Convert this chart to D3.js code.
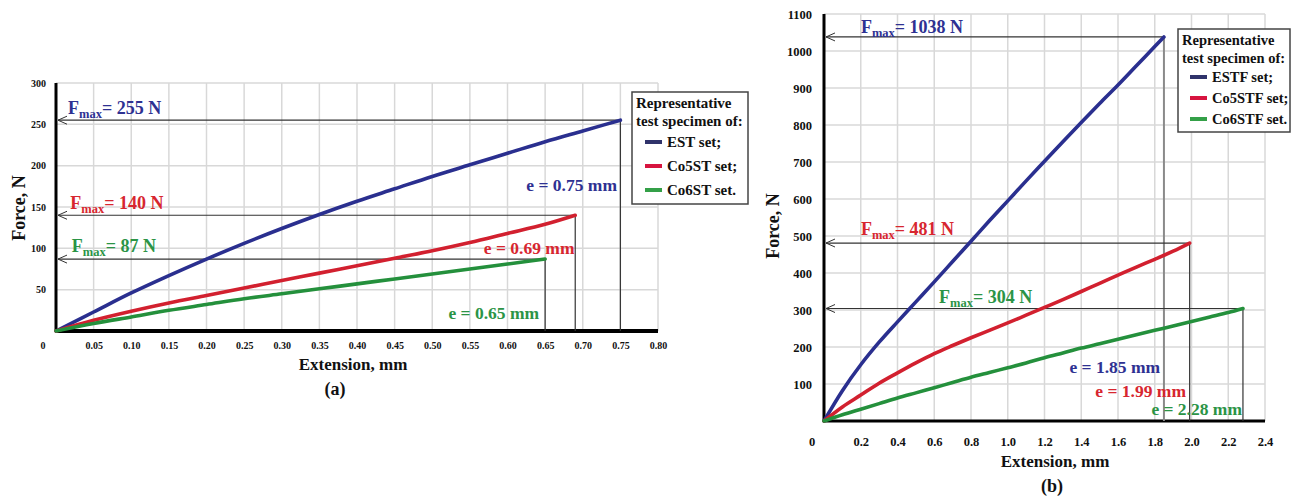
<!DOCTYPE html>
<html>
<head>
<meta charset="utf-8">
<script src="https://cdn.jsdelivr.net/npm/d3@7"></script>
<style>
  body { margin: 0; background: #fff; }
  svg { display: block; }
  svg text { font-family: "Liberation Serif", "Times New Roman", Times, "DejaVu Serif", serif !important; font-weight: bold; }
</style>
</head>
<body>
<svg id="chart" width="1291" height="497"></svg>
<script>
// ---- panel (a) data: extension (mm) / force (N)
var aEstX = [0, 0.05, 0.10, 0.15, 0.20, 0.25, 0.30, 0.35, 0.40, 0.45, 0.50, 0.55, 0.60, 0.65, 0.70, 0.75];
var aEstF = [0, 23, 46, 67, 87, 106, 124, 141, 157, 172, 187, 201, 215, 229, 242, 255];
var aCo5X = [0, 0.05, 0.10, 0.15, 0.20, 0.25, 0.30, 0.35, 0.40, 0.45, 0.50, 0.55, 0.60, 0.65, 0.69];
var aCo5F = [0, 13, 24, 34, 43, 52, 61, 70, 79, 88, 97, 107, 118, 129, 140];
var aCo6X = [0, 0.05, 0.10, 0.15, 0.20, 0.25, 0.30, 0.35, 0.40, 0.45, 0.50, 0.55, 0.60, 0.65];
var aCo6F = [0, 9, 17, 25, 32, 39, 45, 51, 57, 63, 69, 75, 81, 87];
var aXTicks = [0.05, 0.10, 0.15, 0.20, 0.25, 0.30, 0.35, 0.40, 0.45, 0.50, 0.55, 0.60, 0.65, 0.70, 0.75, 0.80];
var aYTicks = [50, 100, 150, 200, 250, 300];
var aNames = ["EST set;", "Co5ST set;", "Co6ST set."];

// ---- panel (b) data
var bEstX = [0, 0.1, 0.2, 0.3, 0.4, 0.5, 0.6, 0.7, 0.8, 0.9, 1.0, 1.1, 1.2, 1.3, 1.4, 1.5, 1.6, 1.7, 1.8, 1.85];
var bEstF = [0, 82, 152, 213, 268, 322, 376, 431, 486, 541, 595, 649, 702, 755, 807, 858, 908, 960, 1012, 1038];
var bCo5X = [0, 0.1, 0.2, 0.3, 0.4, 0.5, 0.6, 0.7, 0.8, 0.9, 1.0, 1.1, 1.2, 1.3, 1.4, 1.5, 1.6, 1.7, 1.8, 1.9, 1.99];
var bCo5F = [0, 38, 70, 102, 130, 157, 182, 204, 225, 245, 265, 286, 307, 328, 350, 372, 394, 416, 437, 459, 481];
var bCo6X = [0, 0.1, 0.2, 0.3, 0.4, 0.5, 0.6, 0.7, 0.8, 0.9, 1.0, 1.1, 1.2, 1.3, 1.4, 1.5, 1.6, 1.7, 1.8, 1.9, 2.0, 2.1, 2.2, 2.28];
var bCo6F = [0, 17, 32, 47, 62, 76, 90, 104, 118, 131, 144, 157, 171, 184, 197, 209, 221, 233, 245, 257, 269, 281, 293, 304];
var bXTicks = [0.2, 0.4, 0.6, 0.8, 1.0, 1.2, 1.4, 1.6, 1.8, 2.0, 2.2, 2.4];
var bYTicks = [100, 200, 300, 400, 500, 600, 700, 800, 900, 1000, 1100];
var bNames = ["ESTF set;", "Co5STF set;", "Co6STF set."];

var lineCol = ["#2a2f8f", "#d2202f", "#24903c"];
var textCol = ["#2e3192", "#d7262f", "#2b9446"];
var swatchCol = ["#30336b", "#d7143f", "#34a048"];

var svg = d3.select("#chart");
svg.append("rect").attr("width", 1291).attr("height", 497).attr("fill", "#fff");

function zip(xs, fs) {
    return xs.map(function(x, i) { return {x: x, f: fs[i]}; });
}

function panel(p) {
    var g = svg.append("g");
    var x = p.x, y = p.y;
    var x0 = x(0), y0 = y(0), xR = x.range()[1], yT = y.range()[1];

    // grid
    g.selectAll("line.gx").data(p.xTicks).enter().append("line")
        .attr("x1", function(d) { return x(d); }).attr("x2", function(d) { return x(d); })
        .attr("y1", y0).attr("y2", yT)
        .attr("stroke", "#d8d8d8").attr("stroke-width", 1.5);
    g.selectAll("line.gy").data(p.yTicks).enter().append("line")
        .attr("x1", x0).attr("x2", xR)
        .attr("y1", function(d) { return y(d); }).attr("y2", function(d) { return y(d); })
        .attr("stroke", "#d8d8d8").attr("stroke-width", 1.5);

    // tick labels
    var xAxis = d3.axisBottom(x).tickValues(p.xTicks).tickSize(0).tickPadding(p.xPad).tickFormat(p.xFmt);
    var gx = g.append("g").attr("transform", "translate(0," + y0 + ")").call(xAxis);
    gx.select(".domain").remove();
    gx.attr("font-family", null);
    gx.selectAll("text").attr("font-size", p.tickSize).attr("fill", "#111");
    gx.append("text").attr("x", x0 - p.zeroOff).attr("y", p.xPad).attr("dy", "0.71em")
        .attr("text-anchor", "middle").attr("font-size", p.tickSize).attr("fill", "#111").text("0");

    var yAxis = d3.axisLeft(y).tickValues(p.yTicks).tickSize(0).tickPadding(p.yPad).tickFormat(d3.format("d"));
    var gy = g.append("g").attr("transform", "translate(" + x0 + ",0)").call(yAxis);
    gy.select(".domain").remove();
    gy.attr("font-family", null);
    gy.selectAll("text").attr("font-size", p.tickSize).attr("fill", "#111");

    // axes
    g.append("line").attr("x1", x0 - 1).attr("x2", xR).attr("y1", y0).attr("y2", y0)
        .attr("stroke", "#000").attr("stroke-width", p.xAxisW);
    g.append("line").attr("x1", x0).attr("x2", x0).attr("y1", y0 + 1).attr("y2", yT)
        .attr("stroke", "#000").attr("stroke-width", 3);

    // max-force guide lines with arrow heads
    p.series.forEach(function(s, i) {
        var last = s.data[s.data.length - 1];
        var ex = x(last.x), ey = y(last.f);
        g.append("line").attr("x1", x0 + 2).attr("x2", ex).attr("y1", ey).attr("y2", ey)
            .attr("stroke", "#333").attr("stroke-width", 1.2);
        g.append("line").attr("x1", ex).attr("x2", ex).attr("y1", ey).attr("y2", y0)
            .attr("stroke", s.vCol || "#333").attr("stroke-width", s.vW || 1.2);
        g.append("path")
            .attr("d", "M" + (x0 + 11) + "," + (ey - 4) + "L" + (x0 + 2) + "," + ey + "L" + (x0 + 11) + "," + (ey + 4))
            .attr("fill", "none").attr("stroke", "#333").attr("stroke-width", 1);
    });

    // curves
    var line = d3.line().x(function(d) { return x(d.x); }).y(function(d) { return y(d.f); })
        .curve(d3.curveMonotoneX);
    p.series.forEach(function(s, i) {
        g.append("path").datum(s.data).attr("d", line)
            .attr("fill", "none").attr("stroke", lineCol[i]).attr("stroke-width", 3.6)
            .attr("stroke-linecap", "round");
    });

    // labels
    p.series.forEach(function(s, i) {
        var t = g.append("text").attr("x", x(s.fLab[0])).attr("y", y(s.fLab[1]))
            .attr("font-size", 18).attr("fill", textCol[i]);
        t.append("tspan").text("F");
        t.append("tspan").attr("font-size", 12.5).attr("dy", 4).text("max");
        t.append("tspan").attr("dy", -4).text("= " + s.fmax + " N");

        g.append("text").attr("x", x(s.eLab[0])).attr("y", y(s.eLab[1]))
            .attr("text-anchor", "end").attr("font-size", 17.5).attr("fill", textCol[i])
            .text("e = " + s.e + " mm");
    });

    // axis titles
    g.append("text").attr("x", p.xTitle[0]).attr("y", p.xTitle[1]).attr("text-anchor", "middle")
        .attr("font-size", 17).attr("fill", "#111").text("Extension, mm");
    g.append("text").attr("x", p.xTitle[0] + p.tagOff).attr("y", p.xTitle[1] + 25).attr("text-anchor", "middle")
        .attr("font-size", 18).attr("fill", "#111").text(p.tag);
    g.append("text").attr("transform", "translate(" + p.yTitle[0] + "," + p.yTitle[1] + ") rotate(-90)")
        .attr("text-anchor", "middle").attr("font-size", 18).attr("fill", "#111").text("Force, N");

    // legend
    var L = p.legend;
    var lg = g.append("g").attr("transform", "translate(" + L.x + "," + L.y + ")");
    lg.append("rect").attr("width", L.w).attr("height", L.h)
        .attr("fill", "#fff").attr("stroke", "#444").attr("stroke-width", 1.5);
    lg.append("text").attr("x", 4).attr("y", 16).attr("font-size", L.fs).attr("fill", "#111").text("Representative");
    lg.append("text").attr("x", 4).attr("y", 34).attr("font-size", L.fs).attr("fill", "#111").text("test specimen of:");
    p.names.forEach(function(n, i) {
        var cy = L.row0 + i * L.step;
        lg.append("line").attr("x1", L.sw[0]).attr("x2", L.sw[1]).attr("y1", cy).attr("y2", cy)
            .attr("stroke", swatchCol[i]).attr("stroke-width", 4);
        lg.append("text").attr("x", L.sw[1] + 5).attr("y", cy).attr("dy", "0.33em")
            .attr("font-size", L.fs).attr("fill", "#111").text(n);
    });
}

panel({
    x: d3.scaleLinear().domain([0, 0.8]).range([56, 658]),
    y: d3.scaleLinear().domain([0, 300]).range([331, 83]),
    xTicks: aXTicks, yTicks: aYTicks,
    xFmt: d3.format(".2f"), xPad: 11, yPad: 10, tickSize: 10, zeroOff: 13, xAxisW: 4,
    series: [
        {data: zip(aEstX, aEstF), fmax: 255, e: "0.75", fLab: [0.016, 263], eLab: [0.7455, 169]},
        {data: zip(aCo5X, aCo5F), fmax: 140, e: "0.69", fLab: [0.019, 147], eLab: [0.689, 93]},
        {data: zip(aCo6X, aCo6F), fmax: 87, e: "0.65", fLab: [0.021, 96], eLab: [0.642, 14]}
    ],
    xTitle: [353, 370], tag: "(a)", tagOff: -18, yTitle: [25, 208],
    names: aNames,
    legend: {x: 632, y: 92, w: 116, h: 112, fs: 15, row0: 50, step: 24, sw: [13, 30]}
});

panel({
    x: d3.scaleLinear().domain([0, 2.4]).range([824, 1265]),
    y: d3.scaleLinear().domain([0, 1100]).range([421, 14]),
    xTicks: bXTicks, yTicks: bYTicks,
    xFmt: d3.format(".1f"), xPad: 16, yPad: 12, tickSize: 12.5, zeroOff: 12, xAxisW: 3,
    series: [
        {data: zip(bEstX, bEstF), fmax: 1038, e: "1.85", fLab: [0.201, 1050], eLab: [1.829, 130], vCol: "#8a8a8a", vW: 2},
        {data: zip(bCo5X, bCo5F), fmax: 481, e: "1.99", fLab: [0.201, 503], eLab: [1.97, 66]},
        {data: zip(bCo6X, bCo6F), fmax: 304, e: "2.28", fLab: [0.626, 318], eLab: [2.275, 16]}
    ],
    xTitle: [1055, 467], tag: "(b)", tagOff: -3, yTitle: [779, 226],
    names: bNames,
    legend: {x: 1178, y: 29, w: 112, h: 103, fs: 14.5, row0: 48, step: 21, sw: [12, 29]}
});
</script>
</body>
</html>
